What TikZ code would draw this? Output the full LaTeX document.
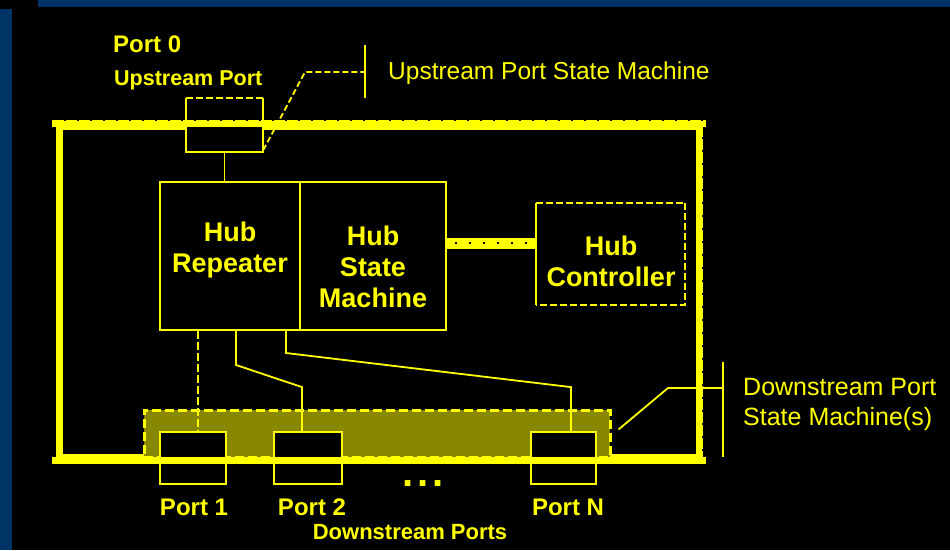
\documentclass[tikz,border=0pt]{standalone}
\usepackage{fontspec}
\setmainfont{Liberation Sans}
\definecolor{sideblue}{RGB}{0,51,102}
\definecolor{ylw}{RGB}{255,255,0}
\definecolor{bandfill}{RGB}{135,135,0}
\begin{document}
\begin{tikzpicture}[x=1pt,y=-1pt,
  thinline/.style={draw=ylw, line width=1.8pt},
  boxshape/.style={rectangle, inner sep=0pt, fill=black},
  portlbl/.style={text=ylw, font=\bfseries\fontsize{24}{28}\selectfont, inner sep=0pt},
  biglbl/.style={text=ylw, font=\bfseries\fontsize{27}{31}\selectfont, align=center, inner sep=0pt},
  notelbl/.style={text=ylw, font=\fontsize{24.5}{30}\selectfont, inner sep=0pt, anchor=west, align=left},
  framestyle/.style={draw=ylw, line width=7pt},
  dotrow/.style={draw=black, line width=2pt, dash pattern=on 2pt off 11pt},
]
% background
\useasboundingbox (0,0) rectangle (950,550);
\fill[black] (0,0) rectangle (950,550);
\fill[sideblue] (38,0) rectangle (950,7);
\fill[sideblue] (0,9) rectangle (12,550);

% outer hub frame
\node[rectangle, framestyle, inner sep=0pt, minimum width=640pt, minimum height=330.5pt] (hub) at (379,291.75) {};
\draw[dotrow] ([yshift=-0.5pt]hub.north east) -- ([yshift=0.5pt]hub.south east);

% upstream port box
\node[boxshape, minimum width=77pt, minimum height=54pt] (up) at (224.5,125) {};
\draw[thinline] (up.north west) -- (up.south west) -- (up.south east) -- (up.north east);
\draw[thinline, dash pattern=on 7pt off 3pt] (up.north west) -- (up.north east);
\draw[framestyle] ([xshift=-3.5pt]hub.north west) -- ([xshift=3.5pt]hub.north east);
\draw[draw=black, line width=1.5pt, dash pattern=on 2pt off 11pt] ([xshift=8pt,yshift=3pt]hub.north west) -- ([yshift=3pt]hub.north east);

% hub repeater and state machine
\node[boxshape, thinline, minimum width=140pt, minimum height=148pt] (hubrep) at (230,256) {};
\node[boxshape, thinline, minimum width=146pt, minimum height=148pt] (hsm) at (373,256) {};
\node[biglbl] (trep) at (230,250) {Hub\\Repeater};
\node[biglbl] (tsm) at (373,267) {Hub\\State\\Machine};

% hub controller
\node[boxshape, minimum width=149pt, minimum height=102pt] (hc) at (610.5,254) {};
\draw[thinline, dash pattern=on 7pt off 3pt] (hc.north west) -- (hc.north east) -- (hc.south east) -- (hc.south west);
\draw[thinline] (hc.south west) -- (hc.north west);
\node[biglbl] (tctl) at (611,261) {Hub\\Controller};

% thick bus between state machine and controller
\draw[draw=ylw, line width=11pt] ([yshift=13pt]hsm.east) -- ([yshift=13pt]hsm.east -| hc.west);
\draw[draw=black, line width=2pt, dash pattern=on 2pt off 12pt] ([xshift=8pt,yshift=13pt]hsm.east) -- ([xshift=-4pt,yshift=13pt]hsm.east -| hc.west);

% upstream link
\draw[thinline] (up.south) -- (up.south |- hubrep.north);

% downstream band
\node[rectangle, fill=bandfill, draw=ylw, line width=3pt, dash pattern=on 9pt off 4pt, inner sep=0pt, minimum width=466pt, minimum height=47pt] (band) at (377,433.5) {};

% downstream ports
\node[boxshape, thinline, minimum width=66pt, minimum height=52pt] (p1) at (193,458) {};
\node[boxshape, thinline, minimum width=68pt, minimum height=52pt] (p2) at (308,458) {};
\node[boxshape, thinline, minimum width=65pt, minimum height=52pt] (pn) at (563.5,458) {};
\draw[framestyle] ([xshift=-3.5pt]hub.south west) -- ([xshift=3.5pt]hub.south east);

% repeater to ports
\draw[thinline, dash pattern=on 8pt off 3pt] ([xshift=5pt]p1.north |- hubrep.south) -- ([xshift=5pt]p1.north);
\draw[thinline] (236,330) -- (236,365) -- ([xshift=-6pt,yshift=44pt]p2.north) -- ([xshift=-6pt]p2.north);
\draw[thinline] (286,330) -- (286,353) -- ([xshift=7.5pt,yshift=44pt]pn.north) -- ([xshift=7.5pt]pn.north);

% upstream port state machine leader
\coordinate (usmbar) at (365,72);
\draw[thinline, dash pattern=on 6pt off 3pt] ([yshift=2pt]up.south east) -- (305,72) -- (usmbar);
\draw[thinline] ([yshift=27pt]usmbar) -- ([yshift=-26pt]usmbar);
\node[notelbl] (usm) at (388,73) {Upstream Port State Machine};

% downstream port state machine leader
\coordinate (dsmbar) at (723,388);
\draw[thinline] ([xshift=7pt,yshift=4pt]band.east) -- (668,388) -- (dsmbar);
\draw[thinline] ([yshift=26pt]dsmbar) -- ([yshift=-69pt]dsmbar);
\node[notelbl, font=\fontsize{25}{30}\selectfont] (dsm) at (743,404) {Downstream Port\\State Machine(s)};

% labels
\node[portlbl, anchor=west] (port0) at (113,44) {Port 0};
\node[portlbl, anchor=west, font=\bfseries\fontsize{21.5}{24}\selectfont] (upl) at (114,80) {Upstream Port};
\node[portlbl] (l1) at (194,507) {Port 1};
\node[portlbl] (l2) at (312,507) {Port 2};
\node[portlbl] (ln) at (568,507) {Port N};
\node[portlbl, font=\bfseries\fontsize{40}{44}\selectfont] (dots) at (423,484) {.\hspace{3.5pt}.\hspace{3.5pt}.};
\node[portlbl, font=\bfseries\fontsize{22}{26}\selectfont] (dsl) at (410,532) {Downstream Ports};
\end{tikzpicture}
\end{document}
